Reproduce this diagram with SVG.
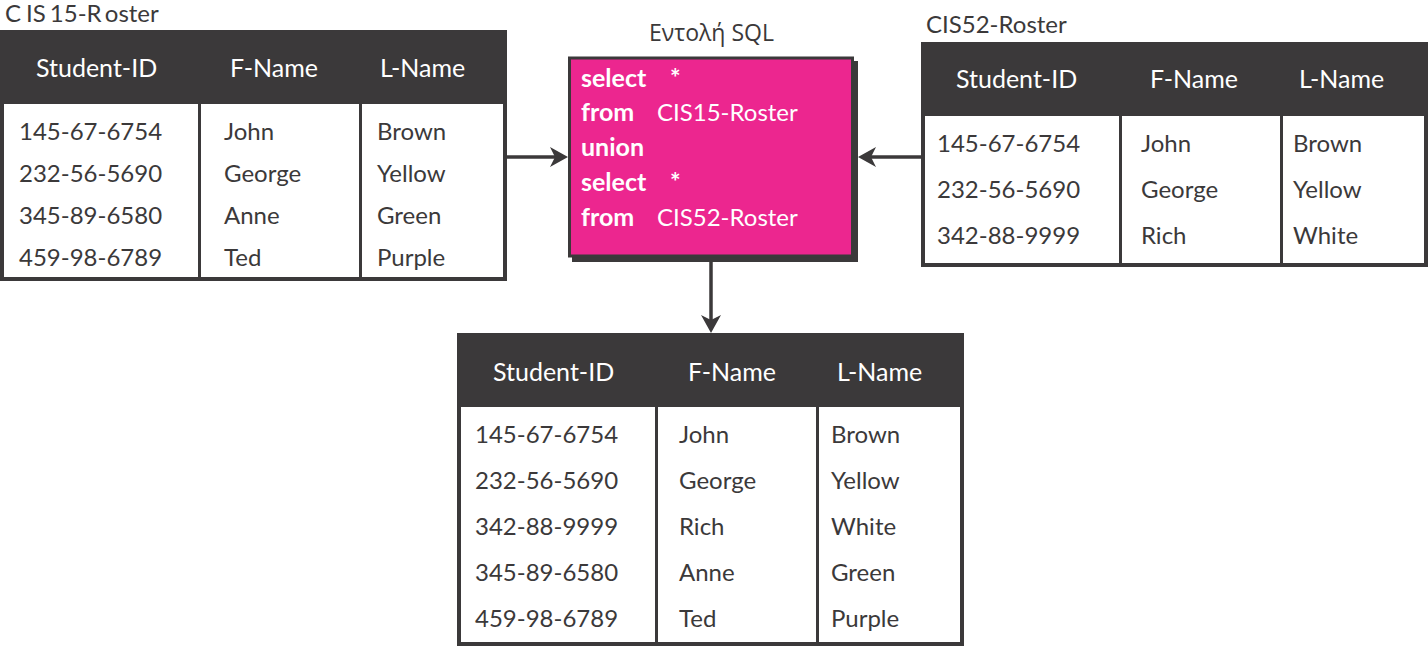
<svg xmlns="http://www.w3.org/2000/svg" width="1428" height="647" viewBox="0 0 1428 647">
<style>
.bg{fill:#3b393a}
.cell{fill:#ffffff}
.hdr{font-family:Lato,"Open Sans",sans-serif;font-size:25px;fill:#ffffff}
.dat{font-family:Lato,"Open Sans",sans-serif;font-size:24px;fill:#3b393a}
.ttl{font-family:Lato,"Open Sans",sans-serif;font-size:24px;fill:#3b393a}
.gr{font-family:"Open Sans",Lato,sans-serif;font-size:24px;fill:#3b393a}
.kw{font-family:Lato,"Open Sans",sans-serif;font-size:25px;font-weight:bold;fill:#ffffff}
.val{font-family:Lato,"Open Sans",sans-serif;font-size:24px;fill:#ffffff}
.conn{stroke:#3b393a;stroke-width:3.5;fill:none}
</style>
<defs>
<marker id="arr" viewBox="0 0 18 20" markerWidth="18" markerHeight="20" refX="5" refY="10" orient="auto" markerUnits="userSpaceOnUse">
<path d="M0,0 L18,10 L0,20 L5,10 z" fill="#3b393a"/>
</marker>
</defs>

<g id="cis15-roster">
<text class="ttl" x="5" y="22" font-size="22">C<tspan dx="5">IS</tspan><tspan dx="4">15-R</tspan><tspan dx="4">oster</tspan></text>
<g transform="translate(0,30)">
<rect class="bg" x="0" y="0" width="507" height="251"/>
<rect class="cell" x="4" y="74" width="194" height="173"/>
<rect class="cell" x="201" y="74" width="158" height="173"/>
<rect class="cell" x="362" y="74" width="141" height="173"/>
<text class="hdr" x="36" y="47">Student-ID</text>
<text class="hdr" x="230" y="47">F-Name</text>
<text class="hdr" x="380" y="47">L-Name</text>
<text class="dat" x="19" y="110">145-67-6754</text>
<text class="dat" x="224" y="110">John</text>
<text class="dat" x="377" y="110">Brown</text>
<text class="dat" x="19" y="152">232-56-5690</text>
<text class="dat" x="224" y="152">George</text>
<text class="dat" x="377" y="152">Yellow</text>
<text class="dat" x="19" y="194">345-89-6580</text>
<text class="dat" x="224" y="194">Anne</text>
<text class="dat" x="377" y="194">Green</text>
<text class="dat" x="19" y="236">459-98-6789</text>
<text class="dat" x="224" y="236">Ted</text>
<text class="dat" x="377" y="236">Purple</text>
</g>
</g>

<g id="sql-command">
<text class="gr" x="649" y="41" textLength="125" lengthAdjust="spacingAndGlyphs">Εντολή SQL</text>
<rect class="bg" x="572" y="61" width="286" height="201"/>
<rect x="569.5" y="58" width="283" height="198" fill="#ec268f" stroke="#3b393a" stroke-width="3"/>
<text class="kw" x="581" y="87">select</text>
<text class="kw" x="670" y="87">*</text>
<text class="kw" x="581" y="121">from</text>
<text class="val" x="657" y="121">CIS15-Roster</text>
<text class="kw" x="581" y="156">union</text>
<text class="kw" x="581" y="191">select</text>
<text class="kw" x="670" y="191">*</text>
<text class="kw" x="581" y="226">from</text>
<text class="val" x="657" y="226">CIS52-Roster</text>
</g>

<g id="cis52-roster">
<text class="ttl" x="926" y="33">CIS52-Roster</text>
<g transform="translate(921,42)">
<rect class="bg" x="0" y="0" width="507" height="225"/>
<rect class="cell" x="4" y="74" width="194" height="147"/>
<rect class="cell" x="201" y="74" width="158" height="147"/>
<rect class="cell" x="362" y="74" width="141" height="147"/>
<text class="hdr" x="35" y="46">Student-ID</text>
<text class="hdr" x="229" y="46">F-Name</text>
<text class="hdr" x="378" y="46">L-Name</text>
<text class="dat" x="16" y="110">145-67-6754</text>
<text class="dat" x="220" y="110">John</text>
<text class="dat" x="372" y="110">Brown</text>
<text class="dat" x="16" y="156">232-56-5690</text>
<text class="dat" x="220" y="156">George</text>
<text class="dat" x="372" y="156">Yellow</text>
<text class="dat" x="16" y="202">342-88-9999</text>
<text class="dat" x="220" y="202">Rich</text>
<text class="dat" x="372" y="202">White</text>
</g>
</g>

<g id="union-result">
<g transform="translate(457,333)">
<rect class="bg" x="0" y="0" width="507" height="313"/>
<rect class="cell" x="4" y="74" width="194" height="235"/>
<rect class="cell" x="201" y="74" width="158" height="235"/>
<rect class="cell" x="362" y="74" width="141" height="235"/>
<text class="hdr" x="36" y="48">Student-ID</text>
<text class="hdr" x="231" y="48">F-Name</text>
<text class="hdr" x="380" y="48">L-Name</text>
<text class="dat" x="18" y="110">145-67-6754</text>
<text class="dat" x="222" y="110">John</text>
<text class="dat" x="374" y="110">Brown</text>
<text class="dat" x="18" y="156">232-56-5690</text>
<text class="dat" x="222" y="156">George</text>
<text class="dat" x="374" y="156">Yellow</text>
<text class="dat" x="18" y="202">342-88-9999</text>
<text class="dat" x="222" y="202">Rich</text>
<text class="dat" x="374" y="202">White</text>
<text class="dat" x="18" y="248">345-89-6580</text>
<text class="dat" x="222" y="248">Anne</text>
<text class="dat" x="374" y="248">Green</text>
<text class="dat" x="18" y="294">459-98-6789</text>
<text class="dat" x="222" y="294">Ted</text>
<text class="dat" x="374" y="294">Purple</text>
</g>
</g>

<g id="connectors">
<line class="conn" x1="507" y1="157" x2="555" y2="157" marker-end="url(#arr)"/>
<line class="conn" x1="921" y1="157" x2="871" y2="157" marker-end="url(#arr)"/>
<line class="conn" x1="711" y1="262" x2="711" y2="320" marker-end="url(#arr)"/>
</g>
</svg>
